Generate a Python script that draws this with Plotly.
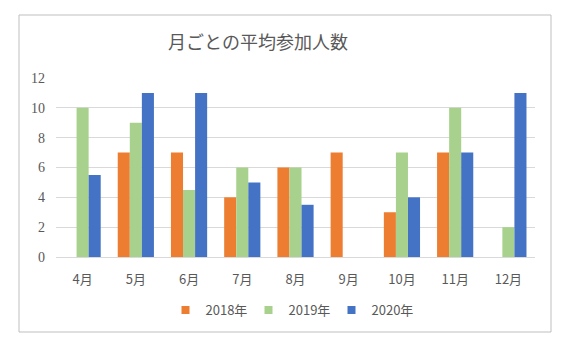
import plotly.graph_objects as go

months = ["4月", "5月", "6月", "7月", "8月", "9月", "10月", "11月", "12月"]
y2018 = [None, 7, 7, 4, 6, 7, 3, 7, None]
y2019 = [10, 9, 4.5, 6, 6, None, 7, 10, 2]
y2020 = [5.5, 11, 11, 5, 3.5, None, 4, 7, 11]
series_names = ["2018年", "2019年", "2020年"]
colors = ["#ED7D31", "#A9D18E", "#4472C4"]
title_text = "月ごとの平均参加人数"

fig = go.Figure()
for name, vals, col in zip(series_names, [y2018, y2019, y2020], colors):
    fig.add_trace(go.Bar(x=months, y=vals, name=name, showlegend=False,
                         marker=dict(color=col, line=dict(width=0))))
# legend entries with small square markers
for name, col in zip(series_names, colors):
    fig.add_trace(go.Scatter(x=[None], y=[None], mode="markers", name=name,
                             marker=dict(symbol="square", size=8, color=col)))

L, R, T, B = 56, 41, 78, 91
W, H = 576, 348
pw, ph = W - L - R, H - T - B

def px_x(p):
    return (p - L) / pw

def px_y(p):
    return (H - B - p) / ph

serif = "Liberation Serif, Noto Sans CJK JP, serif"
sans = "Noto Sans CJK JP, sans-serif"

fig.update_layout(
    width=W, height=H,
    margin=dict(l=L, r=R, t=T, b=B),
    paper_bgcolor="white", plot_bgcolor="white",
    barmode="group", bargap=0.32, bargroupgap=0,
    title=dict(text=title_text, x=258 / W, xanchor="center", y=1 - 43 / H, yanchor="middle",
               font=dict(family=sans, size=18, color="#595959")),
    xaxis=dict(showgrid=False, showline=True, linecolor="#d9d9d9", ticks="",
               ticklabelstandoff=10,
               tickfont=dict(family=sans, size=13, color="#595959")),
    yaxis=dict(range=[0, 12], dtick=2, showgrid=True, gridcolor="#d9d9d9", zeroline=False,
               showline=False, ticks="", ticklabelstandoff=10,
               tickfont=dict(family=serif, size=14, color="#595959")),
    legend=dict(orientation="h", x=px_x(290), xanchor="center", y=px_y(310), yanchor="middle",
                font=dict(family=sans, size=13, color="#595959"),
                itemwidth=30, itemsizing="trace", entrywidth=38, tracegroupgap=0),
    shapes=[dict(type="rect", xref="paper", yref="paper",
                 x0=px_x(19), x1=px_x(551), y0=px_y(332), y1=px_y(15),
                 line=dict(color="#bfbfbf", width=1), layer="below")],
)

fig.write_html("out.html")
